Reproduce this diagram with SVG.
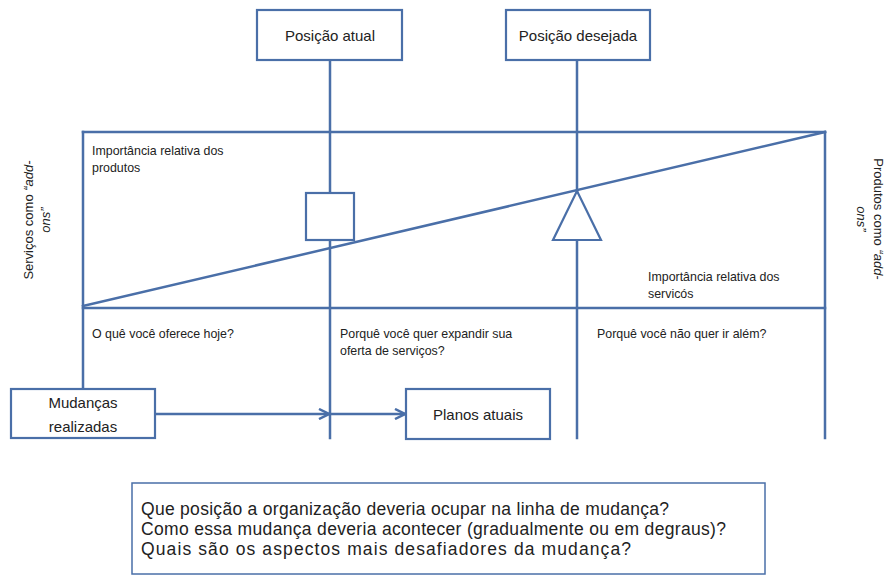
<svg xmlns="http://www.w3.org/2000/svg" width="889" height="576" viewBox="0 0 889 576">
<style>
.ln{stroke:#4a6fa8;stroke-width:2.5;fill:none;stroke-linecap:square}
.bx{stroke:#4a6fa8;stroke-width:2.2;fill:#fff}
.t{font-family:"Liberation Sans",Arial,sans-serif;fill:#222}
.s{font-size:12.4px}
.m{font-size:15px}
.r{font-size:13px}
.b{font-size:17.5px}
</style>
<defs>
<marker id="ah" viewBox="0 0 10 10" refX="9" refY="5" markerWidth="5" markerHeight="5" orient="auto" markerUnits="strokeWidth">
<path d="M1,1 L9,5 L1,9" fill="none" stroke="#4a6fa8" stroke-width="2"/>
</marker>
</defs>
<rect width="889" height="576" fill="#fff"/>
<g id="connectors">
<line class="ln" x1="83" y1="132" x2="825" y2="132"/>
<line class="ln" x1="83" y1="132" x2="83" y2="389"/>
<line class="ln" x1="825" y1="132" x2="825" y2="438"/>
<line class="ln" x1="83" y1="308" x2="825" y2="308"/>
<line class="ln" x1="330" y1="60" x2="330" y2="438"/>
<line class="ln" x1="577" y1="60" x2="577" y2="438"/>
<line class="ln" x1="83" y1="306" x2="825" y2="132"/>
<line class="ln" x1="155" y1="414" x2="329" y2="414" marker-end="url(#ah)"/>
<line class="ln" x1="331" y1="414" x2="405" y2="414" marker-end="url(#ah)"/>
</g>
<g id="pos-atual">
<rect class="bx" x="257" y="10" width="145" height="50"/>
<text class="t m" x="330" y="41" text-anchor="middle">Posição atual</text>
</g>
<g id="pos-desejada">
<rect class="bx" x="506" y="10" width="144" height="50"/>
<text class="t m" x="578" y="41" text-anchor="middle">Posição desejada</text>
</g>
<g id="marker-square">
<rect class="bx" x="306" y="193" width="48" height="47"/>
</g>
<g id="marker-triangle">
<polygon class="bx" points="577,191 601,240 553,240"/>
</g>
<g id="label-produtos">
<text class="t s" x="92" y="155">Importância relativa dos</text>
<text class="t s" x="92" y="172">produtos</text>
</g>
<g id="label-servicos">
<text class="t s" x="648" y="281">Importância relativa dos</text>
<text class="t s" x="648" y="298">servicós</text>
</g>
<g id="q1">
<text class="t s" x="92" y="338">O quê você oferece hoje?</text>
</g>
<g id="q2">
<text class="t s" x="340" y="338">Porquê você quer expandir sua</text>
<text class="t s" x="340" y="355">oferta de serviços?</text>
</g>
<g id="q3">
<text class="t s" x="597" y="338">Porquê você não quer ir além?</text>
</g>
<g id="left-label">
<text class="t r" transform="translate(33,220) rotate(-90)" text-anchor="middle">Serviços como <tspan font-style="italic">“add-</tspan></text>
<text class="t r" transform="translate(50,220) rotate(-90)" text-anchor="middle"><tspan font-style="italic">ons”</tspan></text>
</g>
<g id="right-label">
<text class="t r" transform="translate(874,219) rotate(90)" text-anchor="middle">Produtos como <tspan font-style="italic">“add-</tspan></text>
<text class="t r" transform="translate(857,219) rotate(90)" text-anchor="middle"><tspan font-style="italic">ons”</tspan></text>
</g>
<g id="mudancas">
<rect class="bx" x="11" y="389" width="144" height="49"/>
<text class="t m" x="83" y="408" text-anchor="middle">Mudanças</text>
<text class="t m" x="83" y="432" text-anchor="middle">realizadas</text>
</g>
<g id="planos">
<rect class="bx" x="406" y="389" width="144" height="50"/>
<text class="t m" x="478" y="420" text-anchor="middle">Planos atuais</text>
</g>
<g id="questions">
<rect x="132" y="483" width="633" height="91" fill="#fff" stroke="#4a6fa8" stroke-width="1.5"/>
<text class="t b" x="141" y="515" textLength="528" lengthAdjust="spacing">Que posição a organização deveria ocupar na linha de mudança?</text>
<text class="t b" x="141" y="535" textLength="585" lengthAdjust="spacing">Como essa mudança deveria acontecer (gradualmente ou em degraus)?</text>
<text class="t b" x="141" y="555" textLength="490" lengthAdjust="spacing">Quais são os aspectos mais desafiadores da mudança?</text>
</g>
</svg>
